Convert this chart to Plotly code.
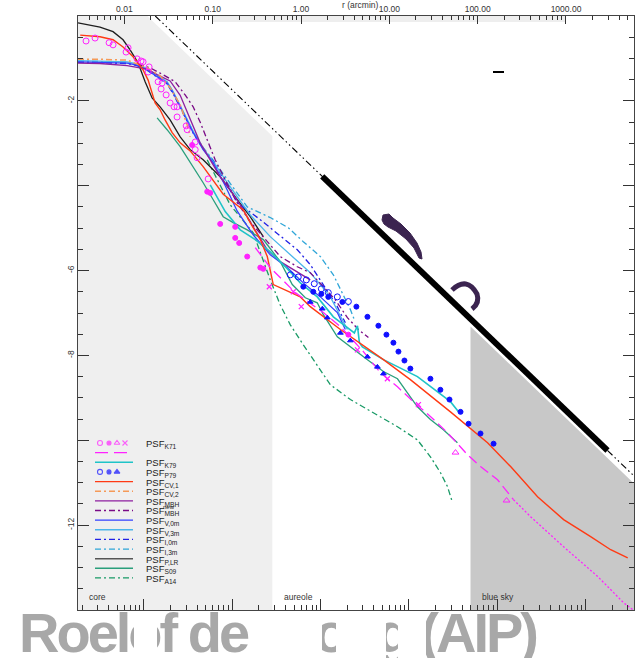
import numpy as np
import plotly.graph_objects as go

# ---------------------------------------------------------------- geometry
W, H = 639, 658
ML, MR, MT, MB = 78, 5, 16, 48
PW, PH = W - ML - MR, H - MT - MB


def xp(x):
    """page pixel -> paper x"""
    return (x - ML) / PW


def yp(y):
    """page pixel -> paper y"""
    return (H - MB - y) / PH


LOGR_RANGE = [-2.525, 3.77]      # log10 r [arcmin]
LOGP_RANGE = [-14.0, 0.0]        # log10 PSF
ARCSEC_SHIFT = np.log10(60.0)

FONT = "Liberation Sans, Arial, sans-serif"

# ---------------------------------------------------------------- regions
core_edge = 0.473          # arcmin, core / aureole
sky_edge = 83.0            # arcmin, aureole / blue sky
region_norm = -3.48        # r^-2 boundary of the shaded regions (log PSF at 1')

# r^-2 reference line
ref_logr = [-1.65, 3.77]
ref_logp = [0.0, -10.84]
ref_bold_logr = [0.24, 3.47]
ref_bold_logp = [-3.78, -10.24]

# ---------------------------------------------------------------- PSF curves (log10 r, log10 PSF)
plr_logr = [-2.525, -2.276, -2.128, -2.015, -1.935, -1.845, -1.765, -1.686, -1.595,
            -1.482, -1.368, -1.255, -1.108, -0.915, -0.722, -0.575, -0.427]
plr_logp = [-0.16, -0.26, -0.37, -0.56, -0.80, -1.10, -1.55, -1.93, -2.14,
            -2.45, -2.85, -3.15, -3.39, -3.79, -4.33, -4.73, -5.20]

cv1_logr = [-2.50, -2.276, -2.128, -2.015, -1.901, -1.788, -1.731, -1.686, -1.652, -1.595,
            -1.539, -1.459, -1.368, -1.255, -1.108, -0.881, -0.654, -0.575, -0.461, -0.382,
            -0.314, -0.008, 0.105, 0.446, 0.933, 1.238, 1.692, 2.112, 2.373, 2.678,
            2.973, 3.279, 3.506, 3.699]
cv1_logp = [-0.45, -0.49, -0.56, -0.73, -0.96, -1.27, -1.51, -1.81, -2.05, -2.21,
            -2.45, -2.75, -2.99, -3.18, -3.55, -4.20, -4.57, -4.87, -5.27, -5.67,
            -6.33, -6.62, -6.85, -7.39, -8.10, -8.57, -9.33, -10.06, -10.62, -11.33,
            -11.87, -12.27, -12.58, -12.77]

cv2_logr = [-2.525, -2.276, -1.969, -1.743, -1.595, -1.482, -1.368, -1.289, -1.255]
cv2_logp = [-1.02, -1.02, -1.04, -1.22, -1.41, -1.69, -2.09, -2.57, -2.85]

mbh_logr = [-2.525, -2.276, -1.969, -1.743, -1.629, -1.482, -1.368, -1.289, -1.221, -1.142,
            -1.028, -0.915, -0.802, -0.688, -0.541, -0.382, -0.235, -0.042, 0.105]
mbh_logp = [-1.11, -1.12, -1.17, -1.25, -1.38, -1.53, -1.87, -2.26, -2.59, -2.99,
            -3.39, -3.79, -4.10, -4.45, -4.97, -5.51, -5.79, -6.03, -6.22]

mbhn_logr = [-1.845, -1.709, -1.539, -1.425, -1.312, -1.221, -1.142, -1.062, -0.972, -0.858,
             -0.722, -0.575, -0.405, -0.235, -0.042, 0.105, 0.253, 0.389, 0.525, 0.650, 0.763]
mbhn_logp = [-1.14, -1.22, -1.41, -1.55, -1.86, -2.14, -2.50, -2.92, -3.39, -3.86,
             -4.40, -4.85, -5.27, -5.67, -5.91, -6.05, -6.38, -6.69, -7.11, -7.39, -7.58]

v0_logr = [-2.525, -2.276, -1.969, -1.856, -1.743, -1.629, -1.516, -1.448, -1.368, -1.289, -1.221,
           -1.108, -0.994, -0.858, -0.722, -0.541, -0.348, -0.156, 0.026, 0.219, 0.411, 0.502]
v0_logp = [-1.08, -1.09, -1.11, -1.16, -1.27, -1.43, -1.58, -1.81, -2.14, -2.45, -2.75,
           -3.15, -3.46, -4.00, -4.60, -5.16, -5.63, -5.93, -6.29, -6.62, -6.99, -7.39]

v3_logr = [-2.525, -2.276, -1.969, -1.856, -1.743, -1.629, -1.516, -1.448, -1.368, -1.289, -1.221,
           -1.108, -0.994, -0.835, -0.575, -0.348, -0.121, 0.105, 0.332, 0.446, 0.525]
v3_logp = [-1.05, -1.06, -1.08, -1.13, -1.24, -1.40, -1.55, -1.78, -2.10, -2.42, -2.72,
           -3.12, -3.43, -3.93, -4.69, -5.20, -5.63, -6.05, -6.62, -7.09, -7.39]

i0_logr = [-2.525, -2.276, -1.969, -1.856, -1.743, -1.629, -1.516, -1.448, -1.368, -1.289, -1.221,
           -1.108, -0.994, -0.858, -0.722, -0.461, -0.235, -0.042, 0.105, 0.219, 0.332, 0.411, 0.502]
i0_logp = [-1.09, -1.10, -1.12, -1.17, -1.28, -1.44, -1.60, -1.83, -2.16, -2.47, -2.76,
           -3.13, -3.42, -3.90, -4.40, -4.80, -5.18, -5.51, -5.86, -6.22, -6.59, -6.85, -7.23]

i3_logr = [-2.525, -2.276, -1.969, -1.856, -1.743, -1.629, -1.516, -1.448, -1.368, -1.289, -1.221,
           -1.108, -0.994, -0.835, -0.609, -0.348, -0.144, 0.026, 0.219, 0.366, 0.480, 0.559, 0.604]
i3_logp = [-1.06, -1.07, -1.09, -1.14, -1.25, -1.41, -1.56, -1.79, -2.12, -2.43, -2.73,
           -3.10, -3.40, -3.85, -4.50, -4.75, -4.99, -5.32, -5.67, -6.10, -6.57, -6.92, -7.16]

k79_logr = [-1.028, -0.858, -0.688, -0.518, -0.348, -0.167, -0.008, 0.184, 0.366, 0.559,
            0.604, 0.639, 0.661, 0.695, 0.933, 1.318, 1.465, 1.692, 1.783]
k79_logp = [-3.98, -4.61, -5.04, -5.27, -5.56, -5.93, -6.29, -6.62, -7.09, -7.39,
            -7.47, -7.30, -7.70, -7.80, -8.10, -8.50, -8.74, -9.09, -9.33]

s09_logr = [-1.629, -1.516, -1.368, -1.221, -1.108, -0.994, -0.881, -0.768, -0.609, -0.427,
            -0.235, -0.099, 0.049, 0.184, 0.253, 0.411, 0.559, 0.752, 0.933, 1.092,
            1.205, 1.318, 1.465, 1.612, 1.771]
s09_logp = [-2.40, -2.68, -3.08, -3.55, -3.93, -4.33, -4.73, -4.87, -5.04, -5.27,
            -5.79, -6.33, -6.64, -6.76, -7.04, -7.56, -7.80, -8.10, -8.38, -8.55,
            -8.88, -9.21, -9.51, -9.75, -10.06]

a14_logr = [-1.062, -0.802, -0.541, -0.439, -0.348, -0.235, -0.121, 0.026, 0.184, 0.332,
            0.559, 0.820, 1.092, 1.318, 1.465, 1.578, 1.658, 1.715]
a14_logp = [-3.39, -4.45, -5.11, -5.70, -6.22, -6.81, -7.28, -7.75, -8.22, -8.69,
            -9.04, -9.35, -9.68, -9.99, -10.39, -10.76, -11.09, -11.47]

k71_fit_logr = [-0.518, -0.348, -0.065, 0.253, 0.446, 0.706, 0.899, 1.092, 1.272, 1.465,
                1.658, 1.885, 2.032, 2.225, 2.406]
k71_fit_logp = [-5.46, -5.93, -6.52, -6.99, -7.32, -7.91, -8.41, -8.74, -9.09, -9.44,
                -9.82, -10.34, -10.62, -10.93, -11.40]
k71_ext_logr = [2.406, 2.599, 2.973, 3.359, 3.653, 3.767]
k71_ext_logp = [-11.40, -11.80, -12.51, -13.21, -13.83, -14.01]

# ---------------------------------------------------------------- measured points
k71_open_logr = [-2.434, -2.332, -2.173, -2.128, -1.981, -1.958, -1.856, -1.811, -1.788, -1.720,
                 -1.731, -1.618, -1.573, -1.584, -1.527, -1.482, -1.437, -1.403, -1.403, -1.300,
                 -1.289, -1.198, -1.198, -1.176, -1.051]
k71_open_logp = [-0.59, -0.52, -0.63, -0.68, -0.85, -0.75, -1.01, -1.06, -1.08, -1.20,
                 -1.32, -1.55, -1.58, -1.72, -1.86, -2.05, -2.14, -2.14, -2.38, -2.59,
                 -2.68, -2.97, -3.15, -3.34, -3.84]
k71_dot_logr = [-1.233, -1.062, -1.028, -0.915, -0.745, -0.745, -0.700, -0.609, -0.461, -0.427, 0.536]
k71_dot_logp = [-3.04, -4.14, -4.17, -4.90, -4.97, -5.23, -5.35, -5.67, -5.93, -5.96, -7.51]
k71_cross_logr = [-0.359, -0.087, 0.003, 0.639, 0.978, 1.329]
k71_cross_logp = [-6.38, -6.50, -6.85, -7.87, -8.55, -9.16]
k71_tri_logr = [1.749, 2.327]
k71_tri_logp = [-10.29, -11.42]

p79_open_logr = [-0.121, -0.031, 0.060, 0.150, 0.230, 0.309, 0.411, 0.536]
p79_open_logp = [-6.10, -6.15, -6.22, -6.31, -6.43, -6.52, -6.62, -6.73]
p79_dot_logr = [0.026, 0.139, 0.230, 0.309, 0.468, 0.627, 0.752, 0.876, 0.967, 1.046,
                1.103, 1.171, 1.238, 1.465, 1.578, 1.681, 1.806, 1.897, 2.032, 2.180]
p79_dot_logp = [-6.38, -6.50, -6.55, -6.62, -6.74, -6.85, -7.09, -7.30, -7.51, -7.70,
                -7.91, -8.12, -8.31, -8.55, -8.81, -9.04, -9.33, -9.61, -9.84, -10.08]
p79_tri_logr = [0.105, 0.241, 0.298, 0.446, 0.559, 0.752, 0.865, 0.933]
p79_tri_logp = [-6.74, -6.90, -7.11, -7.47, -7.65, -8.03, -8.27, -8.43]

# ---------------------------------------------------------------- styles
MAGENTA = "#ff22ff"
C_K79 = "#1fc4c8"
C_P79 = "#1010ff"
C_CV1 = "#ff3a14"
C_CV2 = "#f59a58"
C_MBH = "#8e1fa0"
C_MBHN = "#7a0a86"
C_V0 = "#3340ff"
C_V3 = "#4cb6ea"
C_I0 = "#2020e6"
C_I3 = "#2fa6d8"
C_PLR = "#1e1e1e"
C_S09 = "#2a9f7c"
C_A14 = "#199a66"
DASHDOT = "6px,3px,2px,3px"

fig = go.Figure()


def r_of(logr):
    return [10.0 ** v for v in logr]


def add_line(logr, logp, color, dash="solid", width=1.3):
    fig.add_trace(go.Scatter(x=r_of(logr), y=logp, mode="lines",
                             line=dict(color=color, dash=dash, width=width),
                             hoverinfo="skip", showlegend=False))


def add_points(logr, logp, color, symbol, size, lw=1.0):
    fig.add_trace(go.Scatter(x=r_of(logr), y=logp, mode="markers",
                             marker=dict(color=color, symbol=symbol, size=size,
                                         line=dict(color=color, width=lw)),
                             hoverinfo="skip", showlegend=False))


# shaded regions (below the r^-2 boundary)
lo, hi = LOGR_RANGE
core_lr = np.log10(core_edge)
sky_lr = np.log10(sky_edge)
top_lr = region_norm / 2.0      # where the boundary meets log PSF = 0
core_x = [lo, top_lr, core_lr, core_lr, lo]
core_y = [0.0, 0.0, region_norm - 2 * core_lr, -14.0, -14.0]
fig.add_trace(go.Scatter(x=r_of(core_x), y=core_y, fill="toself", fillcolor="#efefef",
                         mode="none", hoverinfo="skip", showlegend=False))
sky_x = [sky_lr, sky_lr, hi, hi, sky_lr]
sky_y = [-14.0, region_norm - 2 * sky_lr, region_norm - 2 * hi, -14.0, -14.0]
fig.add_trace(go.Scatter(x=r_of(sky_x), y=sky_y, fill="toself", fillcolor="#c8c8c8",
                         mode="none", hoverinfo="skip", showlegend=False))
fig.add_trace(go.Scatter(x=[0.1, 1000, 1000, 0.1, 0.1], y=[0, 0, -0.14, -0.14, 0],
                         fill="toself", fillcolor="#eeeeee", mode="none",
                         hoverinfo="skip", showlegend=False))

# r^-2 reference
add_line(ref_logr, ref_logp, "#000000", dash="7px,3px,1.5px,3px,1.5px,3px", width=1.1)
add_line(ref_bold_logr, ref_bold_logp, "#000000", width=6)

# model / measured PSF curves
add_line(a14_logr, a14_logp, C_A14, dash=DASHDOT)
add_line(s09_logr, s09_logp, C_S09)
add_line(plr_logr, plr_logp, C_PLR)
add_line(i3_logr, i3_logp, C_I3, dash=DASHDOT)
add_line(i0_logr, i0_logp, C_I0, dash=DASHDOT)
add_line(v3_logr, v3_logp, C_V3)
add_line(v0_logr, v0_logp, C_V0)
add_line(mbhn_logr, mbhn_logp, C_MBHN, dash=DASHDOT)
add_line(mbh_logr, mbh_logp, C_MBH)
add_line(cv2_logr, cv2_logp, C_CV2, dash=DASHDOT, width=1.5)
add_line(k79_logr, k79_logp, C_K79, width=1.6)
add_line(cv1_logr, cv1_logp, C_CV1, width=1.4)
add_line(k71_fit_logr, k71_fit_logp, MAGENTA, dash="10px,5px", width=1.3)
add_line(k71_ext_logr, k71_ext_logp, MAGENTA, dash="2px,2px", width=1.3)

add_points(k71_open_logr, k71_open_logp, MAGENTA, "circle-open", 6)
add_points(k71_dot_logr, k71_dot_logp, MAGENTA, "circle", 5)
add_points(k71_cross_logr, k71_cross_logp, MAGENTA, "x-thin-open", 5, lw=1.3)
add_points(k71_tri_logr, k71_tri_logp, MAGENTA, "triangle-up-open", 6)
add_points(p79_open_logr, p79_open_logp, C_P79, "circle-open", 6)
add_points(p79_dot_logr, p79_dot_logp, C_P79, "circle", 5)
add_points(p79_tri_logr, p79_tri_logp, C_P79, "triangle-up", 5)

# anchor the bottom (arcsec) axis
fig.add_trace(go.Scatter(x=[1.0], y=[-20], xaxis="x2", yaxis="y", mode="markers",
                         marker=dict(opacity=0), hoverinfo="skip", showlegend=False))

# ---------------------------------------------------------------- legend (pixel frame x3/y3)
rows = [443 + 9.64 * i for i in range(15)]
LX0, LX1 = 95, 133


def leg_line(row, color, dash="solid", width=1.3):
    fig.add_trace(go.Scatter(x=[LX0, LX1], y=[rows[row]] * 2, xaxis="x3", yaxis="y3",
                             mode="lines", line=dict(color=color, dash=dash, width=width),
                             hoverinfo="skip", showlegend=False))


def leg_mark(row, xs, color, symbols, sizes):
    fig.add_trace(go.Scatter(x=xs, y=[rows[row]] * len(xs), xaxis="x3", yaxis="y3",
                             mode="markers",
                             marker=dict(color=color, symbol=symbols, size=sizes,
                                         line=dict(color=color, width=1.1)),
                             hoverinfo="skip", showlegend=False))


leg_mark(0, [100, 109, 117, 125], MAGENTA,
         ["circle-open", "circle", "triangle-up-open", "x-thin-open"], [5, 4, 5, 5])
leg_line(1, MAGENTA, dash="13px,6px")
leg_line(2, C_K79, width=1.5)
leg_mark(3, [100, 109, 117], C_P79, ["circle-open", "circle", "triangle-up"], [5, 4, 5])
leg_line(4, C_CV1)
leg_line(5, C_CV2, dash=DASHDOT, width=1.5)
leg_line(6, C_MBH)
leg_line(7, C_MBHN, dash=DASHDOT)
leg_line(8, C_V0)
leg_line(9, C_V3, width=1.5)
leg_line(10, C_I0, dash=DASHDOT)
leg_line(11, C_I3, dash=DASHDOT)
leg_line(12, "#555555", width=1.5)
leg_line(13, C_S09, width=1.5)
leg_line(14, C_A14, dash=DASHDOT)

labels = {0: "K71", 2: "K79", 3: "P79", 4: "CV,1", 5: "CV,2", 6: "MBH", 7: "MBH",
          8: "V,0m", 9: "V,3m", 10: "I,0m", 11: "I,3m", 12: "P,LR", 13: "S09", 14: "A14"}
annotations = []
for row, sub in labels.items():
    annotations.append(dict(x=xp(144), y=yp(rows[row] + 1), xref="paper", yref="paper",
                            xanchor="left", yanchor="middle", showarrow=False,
                            text="PSF<sub>%s</sub>" % sub,
                            font=dict(family=FONT, size=9.5, color="#222")))
annotations.append(dict(x=xp(161), y=yp(rows[7] - 3.5), xref="paper", yref="paper",
                        xanchor="left", yanchor="middle", showarrow=False, text="new",
                        font=dict(family=FONT, size=6, color="#222")))

# region names and axis title
for name, x in [("core", 87), ("aureole", 282), ("blue sky", 480)]:
    annotations.append(dict(x=xp(x), y=yp(597), xref="paper", yref="paper",
                            xanchor="left", yanchor="middle", showarrow=False, text=name,
                            font=dict(family=FONT, size=8.5, color="#333")))
annotations.append(dict(x=xp(360), y=yp(5), xref="paper", yref="paper",
                        xanchor="center", yanchor="middle", showarrow=False,
                        text="r (arcmin)", font=dict(family=FONT, size=8.5, color="#333")))

# credit line, partly hidden behind white blocks
CREDIT_FONT = dict(family="Liberation Sans Narrow, Liberation Sans, sans-serif",
                   size=56, color="#a8a8a8")
annotations.append(dict(x=xp(17), y=yp(599), xref="paper", yref="paper",
                        xanchor="left", yanchor="top", showarrow=False,
                        text="<span style='letter-spacing:-3px'><b>Roelof de</b></span>",
                        font=CREDIT_FONT))
annotations.append(dict(x=xp(538), y=yp(599), xref="paper", yref="paper",
                        xanchor="right", yanchor="top", showarrow=False,
                        text="<span style='letter-spacing:-3px'><b>Jong (AIP)</b></span>",
                        font=CREDIT_FONT))
for x0, x1 in [(134, 157), (258, 322), (336, 386), (398, 426)]:
    annotations.append(dict(x=xp(x0), y=yp(611), xref="paper", yref="paper",
                            xanchor="left", yanchor="top", showarrow=False, text=" ",
                            width=x1 - x0, height=47, bgcolor="white", borderpad=0,
                            borderwidth=0, font=dict(size=4)))

# ---------------------------------------------------------------- decorative strokes
shapes = [
    dict(type="path", xref="x3", yref="y3", layer="above",
         path="M383,215 L389,214 L393,218 L401,224 L410,233 L417,243 L421,252 L422,259 "
              "L419,258 L414,248 L406,239 L396,231 L388,227 L384,224 L382,220 Z",
         fillcolor="#3b2450", line=dict(color="#3b2450", width=1)),
    dict(type="path", xref="x3", yref="y3", layer="above",
         path="M452,290 Q467,276 477,294 Q480,303 472,309",
         line=dict(color="#3b2450", width=5)),
    dict(type="rect", xref="x3", yref="y3", layer="above", x0=493, x1=504, y0=71, y1=73,
         fillcolor="#000", line=dict(width=0)),
]

# ---------------------------------------------------------------- axes
def minor_vals(lo_exp, hi_exp, vmin, vmax):
    out = []
    for e in range(lo_exp, hi_exp + 1):
        for k in range(2, 10):
            v = k * 10.0 ** e
            if vmin <= v <= vmax:
                out.append(v)
    return out


top_major = [0.01, 0.1, 1, 10, 100, 1000]
top_text = ["0.01", "0.10", "1.00", "10.00", "100.00", "1000.00"]
bot_lo, bot_hi = lo + ARCSEC_SHIFT, hi + ARCSEC_SHIFT

axis_common = dict(showgrid=False, zeroline=False, showline=True, linecolor="#444",
                   linewidth=1, ticks="inside", tickcolor="#333", tickwidth=1,
                   tickfont=dict(family=FONT, size=8.5, color="#333"))

fig.update_layout(
    width=W, height=H,
    margin=dict(l=ML, r=MR, t=MT, b=MB, pad=0),
    paper_bgcolor="white", plot_bgcolor="white",
    showlegend=False,
    xaxis=dict(type="log", range=LOGR_RANGE, side="top", anchor="y",
               tickmode="array", tickvals=top_major, ticktext=top_text, ticklen=8,
               minor=dict(tickmode="array", tickvals=minor_vals(-3, 3, 10 ** lo, 10 ** hi),
                          ticks="inside", ticklen=4, tickcolor="#333"),
               **axis_common),
    xaxis2=dict(type="log", range=[bot_lo, bot_hi], side="bottom", anchor="y",
                overlaying="x", tickmode="array", tickvals=[1, 10, 100, 1e3, 1e4, 1e5],
                ticklen=11, showticklabels=False,
                minor=dict(tickmode="array", tickvals=minor_vals(-1, 5, 10 ** bot_lo, 10 ** bot_hi),
                           ticks="inside", ticklen=5, tickcolor="#333"),
                **axis_common),
    yaxis=dict(range=LOGP_RANGE, tickmode="array",
               tickvals=[0, -2, -4, -6, -8, -10, -12, -14],
               ticktext=["", "-2", "", "-6", "-8", "", "-12", ""],
               tickangle=-90, ticklen=11, mirror="ticks",
               minor=dict(dtick=0.5, tick0=0, ticks="inside", ticklen=5, tickcolor="#333"),
               **axis_common),
    xaxis3=dict(range=[ML, W - MR], overlaying="x", anchor="y3", visible=False),
    yaxis3=dict(range=[H - MB, MT], overlaying="y", anchor="x3", visible=False),
    annotations=annotations,
    shapes=shapes,
)

fig.write_html("out.html")
